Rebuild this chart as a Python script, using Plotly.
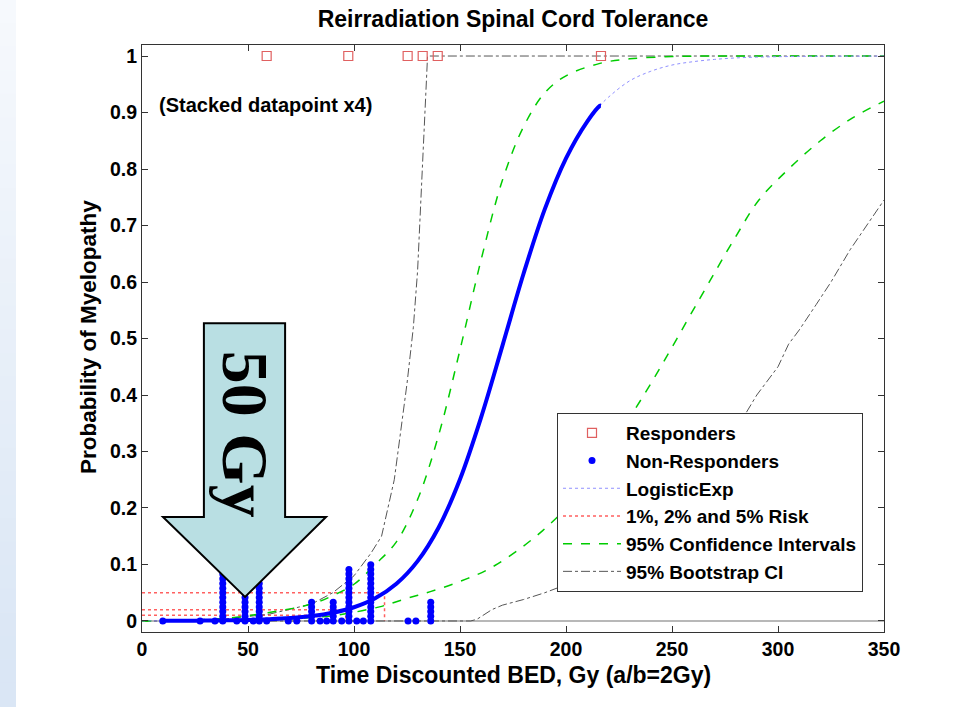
import plotly.graph_objects as go

# ---------------- data ----------------
responder_dose = [58.8, 97.3, 125.3, 132.4, 139.5, 216.5]
responder_prob = [1, 1, 1, 1, 1, 1]

nonresp_dose = [9.8, 27.4, 34.4, 38.1, 44.7, 48.6, 52.5, 55.3, 58.8, 69.0, 73.0, 80.0,
                84.0, 87.1, 90.2, 94.2, 97.6, 101.3, 104.4, 107.9, 125.5, 129.2, 136.2]
nonresp_count = [1, 1, 1, 12, 1, 8, 1, 10, 1, 1, 1, 5,
                 1, 1, 5, 1, 12, 1, 1, 13, 1, 1, 5]
stack_step = 0.0083

logit_dose = [0, 10, 20, 30, 40, 50, 60, 70, 80, 90, 100, 110, 120, 130, 140, 150, 160,
              170, 180, 190, 200, 210, 216, 220, 230, 240, 250, 260, 270, 280, 290, 300,
              310, 320, 330, 340, 350]
logit_prob = [0.00014, 0.00023, 0.00039, 0.00065, 0.0011, 0.00185, 0.0031, 0.0052, 0.0087,
              0.0146, 0.0243, 0.0402, 0.0659, 0.106, 0.166, 0.251, 0.361, 0.487, 0.615,
              0.729, 0.819, 0.884, 0.912, 0.927, 0.956, 0.973, 0.984, 0.990, 0.994, 0.9966,
              0.998, 0.9988, 0.9993, 0.9996, 0.9997, 0.9998, 0.9999]
fit_start, fit_end = 9.0, 216.5

ci_up_dose = [0, 20, 40, 60, 80, 90, 100, 110, 120, 130, 140, 150, 160, 170, 180, 190, 200,
              216, 230, 250, 270, 350]
ci_up_prob = [0.0005, 0.0015, 0.005, 0.015, 0.03, 0.045, 0.065, 0.1, 0.14, 0.215, 0.33, 0.48,
              0.64, 0.78, 0.875, 0.935, 0.965, 0.987, 0.995, 0.999, 1.0, 1.0]
ci_lo_dose = [0, 40, 60, 80, 93, 112, 125, 136, 150, 165, 189, 212, 225, 240, 263, 280, 291,
              305, 320, 335, 350]
ci_lo_prob = [0.0, 0.0008, 0.003, 0.006, 0.011, 0.025, 0.04, 0.052, 0.07, 0.095, 0.16, 0.25,
              0.33, 0.42, 0.57, 0.68, 0.745, 0.80, 0.85, 0.89, 0.92]

bs_up_dose = [0, 20, 40, 60, 80, 90, 100, 108, 113, 119, 125, 128, 130, 132.3, 134.7, 216, 350]
bs_up_prob = [0.0, 0.001, 0.004, 0.012, 0.03, 0.05, 0.08, 0.12, 0.15, 0.25, 0.42, 0.52, 0.62,
              0.82, 1.0, 1.0, 1.0]
bs_lo_dose = [0, 155, 158, 165, 170, 180, 190, 197, 210, 225, 240, 255, 270, 282, 290, 300,
              305, 310, 318, 325, 334, 340, 350]
bs_lo_prob = [0, 0, 0.003, 0.02, 0.028, 0.038, 0.05, 0.06, 0.085, 0.12, 0.17, 0.22, 0.29, 0.35,
              0.40, 0.45, 0.49, 0.515, 0.56, 0.60, 0.657, 0.69, 0.745]

risk_levels = [0.01, 0.02, 0.05]
risk_doses = [82.6, 96.2, 114.4]

x_ticks = [0, 50, 100, 150, 200, 250, 300, 350]
y_ticks = [0, 0.1, 0.2, 0.3, 0.4, 0.5, 0.6, 0.7, 0.8, 0.9, 1]

# ---------------- figure ----------------
FONT = "Liberation Sans, Arial, sans-serif"
W, H = 979, 707
ML, MR, MT, MB = 142, 95, 45, 75
PW, PH = W - ML - MR, H - MT - MB

fig = go.Figure()

# zero reference line
fig.add_trace(go.Scatter(x=[0, 350], y=[0, 0], mode="lines",
                         line=dict(color="#a0a0a0", width=1.5), showlegend=False,
                         hoverinfo="skip"))

# risk lines
rx, ry = [], []
for lv, d in zip(risk_levels, risk_doses):
    rx += [0, d, d, None]
    ry += [lv, lv, 0, None]
fig.add_trace(go.Scatter(x=rx, y=ry, mode="lines", name="<b>1%, 2% and 5% Risk</b>",
                         line=dict(color="#ff6060", width=1.5, dash="dot"),
                         legendrank=4))

# bootstrap CI
fig.add_trace(go.Scatter(x=bs_up_dose, y=bs_up_prob, mode="lines",
                         name="<b>95% Bootstrap CI</b>",
                         line=dict(color="#555555", width=1, dash="dashdot"),
                         legendgroup="bs", legendrank=6))
fig.add_trace(go.Scatter(x=bs_lo_dose, y=bs_lo_prob, mode="lines", showlegend=False,
                         line=dict(color="#555555", width=1, dash="dashdot"),
                         legendgroup="bs"))

# confidence intervals
fig.add_trace(go.Scatter(x=ci_up_dose, y=ci_up_prob, mode="lines", line_shape="spline",
                         name="<b>95% Confidence Intervals</b>",
                         line=dict(color="#00cc00", width=1.5, dash="dash"),
                         legendgroup="ci", legendrank=5))
fig.add_trace(go.Scatter(x=ci_lo_dose, y=ci_lo_prob, mode="lines", line_shape="spline",
                         showlegend=False,
                         line=dict(color="#00cc00", width=1.5, dash="dash"),
                         legendgroup="ci"))

# logistic model (full range, thin dotted)
fig.add_trace(go.Scatter(x=logit_dose, y=logit_prob, mode="lines", line_shape="spline",
                         name="<b>LogisticExp</b>",
                         line=dict(color="#9090ff", width=1, dash="dot"), legendrank=3))

# thick fit over data range
fx, fy = [], []
for d, p in zip(logit_dose, logit_prob):
    if fit_start <= d <= fit_end:
        fx.append(d)
        fy.append(p)
fig.add_trace(go.Scatter(x=[fit_start] + fx + [fit_end], y=[0.00025] + fy + [0.9125],
                         mode="lines", line_shape="spline", showlegend=False,
                         line=dict(color="#0000ff", width=4), hoverinfo="skip"))

# non-responders (stacked)
nx, ny = [], []
for d, c in zip(nonresp_dose, nonresp_count):
    for k in range(c):
        nx.append(d)
        ny.append(k * stack_step)
fig.add_trace(go.Scatter(x=nx, y=ny, mode="markers", name="<b>Non-Responders</b>",
                         marker=dict(color="#0000ff", size=7, symbol="circle"),
                         legendrank=2))

# responders
fig.add_trace(go.Scatter(x=responder_dose, y=responder_prob, mode="markers",
                         name="<b>Responders</b>",
                         marker=dict(color="#e06060", size=9, symbol="square-open",
                                     line=dict(width=1.2)),
                         legendrank=1))

# ---------------- shapes ----------------
shapes = []
# left slide band
n = 30
y0p, y1p = -MB / PH, 1 + MT / PH
for i in range(n):
    t = i / (n - 1)
    r = int(246 - 28 * t)
    g = int(249 - 19 * t)
    b = int(253 - 8 * t)
    shapes.append(dict(type="rect", xref="paper", yref="paper",
                       x0=-ML / PW, x1=(16 - ML) / PW,
                       y0=y1p - (i + 1) * (y1p - y0p) / n,
                       y1=y1p - i * (y1p - y0p) / n + 0.001,
                       fillcolor=f"rgb({r},{g},{b})", line=dict(width=0), layer="below"))

# 50 Gy arrow overlay (data coords)
arrow_path = ("M 29.2 0.527 L 67.5 0.527 L 67.5 0.184 L 86.8 0.184 L 48.6 0.0425 "
              "L 9.9 0.184 L 29.2 0.184 Z")
shapes.append(dict(type="path", xref="x", yref="y", path=arrow_path,
                   fillcolor="#b9dfe3", line=dict(color="black", width=2), layer="above"))

annotations = [
    dict(x=48.9, y=0.33, xref="x", yref="y", text="<b>50 Gy</b>", showarrow=False,
         textangle=90, xanchor="center", yanchor="middle",
         font=dict(family="Liberation Serif, Times New Roman, serif", size=66, color="black")),
    dict(x=7, y=0.913, xref="x", yref="y", text="<b>(Stacked datapoint x4)</b>",
         showarrow=False, xanchor="left", yanchor="middle",
         font=dict(family=FONT, size=20, color="black")),
    dict(x=(513 - ML) / PW, y=-43 / PH, xref="paper", yref="paper",
         text="<b>Time Discounted BED, Gy (a/b=2Gy)</b>", showarrow=False,
         xanchor="center", yanchor="middle", font=dict(family=FONT, size=23, color="black")),
    dict(x=-(ML - 88) / PW, y=(632 - 337) / PH, xref="paper", yref="paper",
         text="<b>Probability of Myelopathy</b>", showarrow=False, textangle=-90,
         xanchor="center", yanchor="middle",
         font=dict(family=FONT, size=22.5, color="black")),
]

fig.update_layout(
    width=W, height=H,
    margin=dict(l=ML, r=MR, t=MT, b=MB),
    paper_bgcolor="white", plot_bgcolor="white",
    title=dict(text="<b>Reirradiation Spinal Cord Tolerance</b>", x=(513 - ML) / PW,
               xref="paper", xanchor="center",
               y=1 - 19 / H, yanchor="middle", font=dict(family=FONT, size=23, color="black")),
    shapes=shapes, annotations=annotations,
    legend=dict(x=(863 - ML) / PW, y=(632 - 592) / PH, xanchor="right", yanchor="bottom",
                bgcolor="white", bordercolor="#333333", borderwidth=1,
                font=dict(family=FONT, size=19, color="black"), itemwidth=58,
                tracegroupgap=0),
    showlegend=True,
)
axis_common = dict(showgrid=False, zeroline=False, showline=True, linecolor="#333333",
                   linewidth=1, mirror="ticks", ticks="inside", ticklen=6, tickcolor="#333333",
                   tickfont=dict(family=FONT, size=19.5, color="black"))
fig.update_xaxes(range=[0, 350], tickvals=x_ticks, ticktext=[f"<b>{v}</b>" for v in x_ticks],
                 **axis_common)
fig.update_yaxes(range=[-0.0195, 1.0195], tickvals=y_ticks,
                 ticktext=[f"<b>{v:g}</b>" for v in y_ticks], **axis_common)

fig.write_html("out.html")
